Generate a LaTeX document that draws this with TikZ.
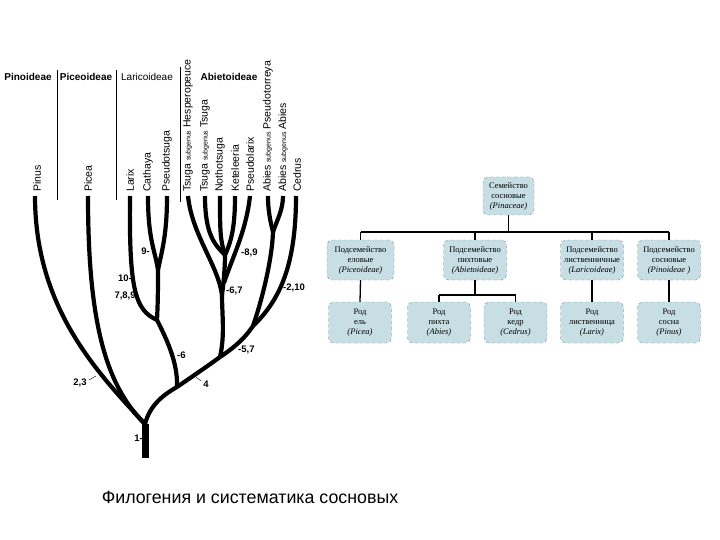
\documentclass[tikz,border=0pt]{standalone}
\usepackage{fontspec}
\setmainfont{Liberation Serif}
\setsansfont{Liberation Sans}
\usepackage{xcolor}
\definecolor{boxfill}{RGB}{198,222,228}
\definecolor{boxline}{RGB}{118,138,144}
\usetikzlibrary{positioning, calc}
\newcommand{\subgn}[1]{{\fontsize{7}{8}\selectfont #1}}

\begin{document}
\begin{tikzpicture}[x=1pt, y=-1pt,
    branch/.style={line width=4.2pt, line cap=butt},
    taxon/.style={rotate=90, anchor=west, inner sep=0pt, font=\sffamily\fontsize{10.5}{12}\selectfont},
    clade/.style={inner sep=0pt, font=\sffamily\bfseries\fontsize{10}{11}\selectfont},
    nodelbl/.style={inner sep=0pt, font=\sffamily\bfseries\fontsize{9.5}{10}\selectfont},
    chartbox/.style={draw=boxline, dashed, fill=boxfill, rounded corners=5pt,
      minimum width=63pt, minimum height=40pt, align=center, inner sep=1pt,
      font=\fontsize{8.5}{10}\selectfont},
    link/.style={line width=1.3pt}]
  \useasboundingbox (0,0) rectangle (720,540);

  % Subfamily headers and dividers
  \node[clade] (hpin) at (28,77) {Pinoideae};
  \node[clade] (hpic) at (86,77) {Piceoideae};
  \node[clade, font=\sffamily\fontsize{10}{11}\selectfont] (hlar) at (147,77) {Laricoideae};
  \node[clade] (habi) at (229,77) {Abietoideae};
  \draw[thin] (57,70) -- (57,200);
  \draw[thin] (116,70) -- (116,200);
  \draw[thin] (180,67) -- (180,202);

  % Leaf names
  \node[taxon] (tpin) at (37,192) {Pinus};
  \node[taxon] (tpic) at (88,192) {Picea};
  \node[taxon] (tlar) at (130,192) {Larix};
  \node[taxon] (tcat) at (148,192) {Cathaya};
  \node[taxon] (tpsd) at (167,192) {Pseudotsuga};
  \node[taxon] (thes) at (188,192) {Tsuga \subgn{subgenus} Hesperopeuce};
  \node[taxon] (ttsu) at (205,192) {Tsuga \subgn{subgenus} Tsuga};
  \node[taxon] (tnot) at (220,192) {Nothotsuga};
  \node[taxon] (tket) at (235,192) {Keteleeria};
  \node[taxon] (tpsl) at (250,192) {Pseudolarix};
  \node[taxon] (tabp) at (268,192) {Abies \subgn{subgenus} Pseudotorreya};
  \node[taxon] (taba) at (283,192) {Abies \subgn{subgenus} Abies};
  \node[taxon] (tced) at (297,192) {Cedrus};

  % Junctions of the tree
  \coordinate (root) at (145,458);
  \coordinate (base) at (145,424);
  \coordinate (j4) at (177,387);
  \coordinate (jt) at (220,357);
  \coordinate (j57) at (253,326);
  \coordinate (jlar) at (157,320);
  \coordinate (jcp) at (158,270);
  \coordinate (j67) at (222,295);
  \coordinate (jpl) at (224,283);
  \coordinate (j89) at (225,255);
  \coordinate (jab) at (273,232);
  % Leaf tips
  \coordinate (pinus) at (35,196);
  \coordinate (picea) at (88,196);
  \coordinate (larix) at (130,196);
  \coordinate (cathaya) at (148,196);
  \coordinate (pseudotsuga) at (167,196);
  \coordinate (hesper) at (188,196);
  \coordinate (tsuga) at (205,196);
  \coordinate (notho) at (220,196);
  \coordinate (kete) at (235,196);
  \coordinate (pseudolarix) at (250,196);
  \coordinate (abpt) at (268,196);
  \coordinate (abab) at (283,196);
  \coordinate (cedrus) at (296,196);

  % Trunk
  \draw[line width=7pt] (root) -- (base);
  % Pinus and Picea
  \draw[branch] (base) .. controls (100,375) and (35,310) .. (pinus);
  \draw[branch] (base) .. controls (105,385) and (88,320) .. (picea);
  % Main spine
  \draw[branch] (base) .. controls (150,405) and (163,395) .. (j4);
  \draw[branch] (j4) .. controls (190,378) and (205,368) .. (jt);
  \draw[branch] (jt) .. controls (235,347) and (245,338) .. (j57);
  % Laricoideae
  \draw[branch] (j4) .. controls (178,362) and (166,338) .. (jlar);
  \draw[branch] (jlar) .. controls (135,310) and (129,290) .. (larix);
  \draw[branch] (jlar) .. controls (158,300) and (158,285) .. (jcp);
  \draw[branch] (jcp) .. controls (155,250) and (148,240) .. (cathaya);
  \draw[branch] (jcp) .. controls (162,250) and (167,235) .. (pseudotsuga);
  % Tsuga group
  \draw[branch] (jt) .. controls (225,335) and (222,315) .. (j67);
  \draw[branch] (j67) .. controls (218,265) and (192,235) .. (hesper);
  \draw[branch] (j67) .. controls (224,280) and (225,265) .. (j89);
  \draw[branch] (j89) .. controls (215,245) and (205,235) .. (tsuga);
  \draw[branch] (j89) .. controls (220,240) and (220,230) .. (notho);
  \draw[branch] (j89) .. controls (232,240) and (235,225) .. (kete);
  \draw[branch] (jpl) .. controls (232,258) and (246,232) .. (pseudolarix);
  % Abies and Cedrus
  \draw[branch] (j57) .. controls (262,300) and (272,260) .. (jab);
  \draw[branch] (jab) .. controls (270,220) and (268,210) .. (abpt);
  \draw[branch] (jab) .. controls (277,220) and (283,210) .. (abab);
  \draw[branch] (j57) .. controls (280,300) and (296,265) .. (cedrus);

  % Character labels
  \node[nodelbl, anchor=east] (l1) at (143,438) {1-};
  \node[nodelbl] (l23) at (80,383) {2,3};
  \draw[thin] (89,380) -- (96,376);
  \node[nodelbl] (l4) at (206,384) {4};
  \draw[thin] (196,377) -- (201,381);
  \node[nodelbl, anchor=west] (l6) at (177,355) {-6};
  \node[nodelbl, anchor=west] (l57) at (238,350) {-5,7};
  \node[nodelbl, anchor=west] (l67) at (226,291) {-6,7};
  \node[nodelbl, anchor=west] (l89) at (241,253) {-8,9};
  \node[nodelbl, anchor=east] (l9) at (150,251) {9-};
  \node[nodelbl, anchor=east] (l10) at (132,278) {10-};
  \node[nodelbl, anchor=east] (l789) at (139,296) {7,8,9-};
  \node[nodelbl, anchor=west] (l210) at (283,288) {-2,10};

  % Classification chart
  \node[chartbox, minimum width=51pt, minimum height=38pt] (fam) at (508.5,196) {Семейство\\сосновые\\\textit{(Pinaceae)}};
  \node[chartbox, minimum width=67pt] (sub1) at (360.5,260) {Подсемейство\\еловые\\\textit{(Piceoideae)}};
  \node[chartbox] (sub2) at (475,260) {Подсемейство\\пихтовые\\\textit{(Abietoideae)}};
  \node[chartbox] (sub3) at (592,260) {Подсемейство\\лиственничные\\\textit{(Laricoideae)}};
  \node[chartbox] (sub4) at (669,260) {Подсемейство\\сосновые\\\textit{(Pinoideae )}};
  \node[chartbox, minimum height=41pt] (g1) at (360,322.5) {Род\\ель\\\textit{(Picea)}};
  \node[chartbox, minimum height=41pt] (g2) at (439,322.5) {Род\\пихта\\\textit{(Abies)}};
  \node[chartbox, minimum height=41pt] (g3) at (515.5,322.5) {Род\\кедр\\\textit{(Cedrus)}};
  \node[chartbox, minimum height=41pt] (g4) at (592,322.5) {Род\\лиственница\\\textit{(Larix)}};
  \node[chartbox, minimum height=41pt] (g5) at (669,322.5) {Род\\сосна\\\textit{(Pinus)}};
  \coordinate (bus) at (0,232);
  \coordinate (bus2) at (0,295);
  \draw[link] (fam.south) -- (fam |- bus);
  \draw[link] (sub1 |- bus) -- (sub4 |- bus);
  \foreach \s in {sub1,sub2,sub3,sub4}
    \draw[link] (\s.north) -- (\s |- bus);
  \draw[link] (sub1.south) -- (g1.north);
  \draw[link] (sub2.south) -- (sub2 |- bus2);
  \draw[link] (g2 |- bus2) -- (g3 |- bus2);
  \draw[link] (g2.north) -- (g2 |- bus2);
  \draw[link] (g3.north) -- (g3 |- bus2);
  \draw[link] (sub3.south) -- (g4.north);
  \draw[link] (sub4.south) -- (g5.north);

  % Caption
  \node[font=\sffamily\fontsize{17.8}{19}\selectfont] (caption) at (250,497) {Филогения и систематика сосновых};
\end{tikzpicture}
\end{document}
